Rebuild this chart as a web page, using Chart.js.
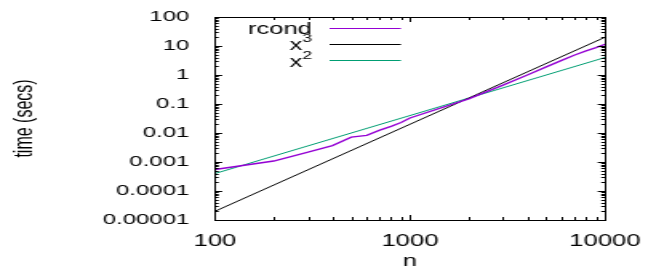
<!DOCTYPE html>
<html>
<head>
<meta charset="utf-8">
<script src="https://cdn.jsdelivr.net/npm/chart.js@4/dist/chart.umd.min.js"></script>
<style>
  html, body { margin: 0; padding: 0; background: #fff; overflow: hidden; }
  /* the reference is a horizontally stretched gnuplot image, so stretch the canvas too */
  #wrap { position: relative; width: 409px; height: 273px; transform: scaleX(1.6); transform-origin: 0 0; }
</style>
</head>
<body>
<div id="wrap"><canvas id="chart"></canvas></div>
<script>
// timings: problem size n vs seconds
const rcondN = [100, 200, 300, 400, 500, 600, 700, 800, 900, 1000, 2000, 3000, 4000, 5000, 6000, 7000, 8000, 9000, 10000];
const rcondTime = [0.00055, 0.00108, 0.0022, 0.0037, 0.0072, 0.0083, 0.0125, 0.017, 0.023, 0.033, 0.15, 0.45, 1.0, 1.9, 3.2, 4.9, 6.8, 8.8, 11.5];
const cubeN = [100, 10000];
const cubeTime = [0.00002, 20];
const squareN = [100, 10000];
const squareTime = [0.0004, 4];

const seriesLabels = ['rcond', 'x^3', 'x^2'];
const seriesColors = ['#9400d3', '#000000', '#009e73'];

const xTicks = [100, 1000, 10000];
const xTickLabels = ['100', '1000', '10000'];
const yTicks = [0.00001, 0.0001, 0.001, 0.01, 0.1, 1, 10, 100];
const yTickLabels = ['0.00001', '0.0001', '0.001', '0.01', '0.1', '1', '10', '100'];

const FONT = '"Liberation Sans", Arial, sans-serif';

const toPoints = (xs, ys) => xs.map((v, i) => ({ x: v, y: ys[i] }));

// inward mirrored tics, the box and the gnuplot-style key
const gnuplotFrame = {
  id: 'gnuplotFrame',
  afterDatasetsDraw(chart) {
    const { ctx, chartArea: a, scales: { x, y } } = chart;
    ctx.save();
    ctx.strokeStyle = '#000';
    ctx.lineWidth = 1;
    ctx.beginPath();
    const decades = (lo, hi, fn) => {
      for (let d = Math.round(Math.log10(lo)); d < Math.round(Math.log10(hi)); d++) {
        for (let m = 1; m <= 9; m++) fn(m * Math.pow(10, d), m === 1);
      }
      fn(hi, true);
    };
    decades(x.min, x.max, (v, major) => {
      const px = Math.round(x.getPixelForValue(v)) + 0.5;
      const len = major ? 5 : 3;
      ctx.moveTo(px, a.bottom); ctx.lineTo(px, a.bottom - len);
      ctx.moveTo(px, a.top); ctx.lineTo(px, a.top + len);
    });
    decades(y.min, y.max, (v, major) => {
      const py = Math.round(y.getPixelForValue(v)) + 0.5;
      const len = major ? 4.5 : 2.3;
      ctx.moveTo(a.left, py); ctx.lineTo(a.left + len, py);
      ctx.moveTo(a.right, py); ctx.lineTo(a.right - len, py);
    });
    ctx.stroke();
    ctx.strokeRect(Math.round(a.left) + 0.5, Math.round(a.top) + 0.5, Math.round(a.width), Math.round(a.height));

    // key
    const textRight = 195, sampleLeft = 206, sampleRight = 250.6;
    chart.data.datasets.forEach((ds, i) => {
      const ly = 27.5 + i * 16.3;
      const [base, sup] = ds.label.split('^');
      ctx.fillStyle = '#000';
      ctx.textBaseline = 'alphabetic';
      ctx.textAlign = 'left';
      ctx.font = '11px ' + FONT;
      const supW = sup ? ctx.measureText(sup).width : 0;
      ctx.font = '16px ' + FONT;
      const baseW = ctx.measureText(base).width;
      const x0 = textRight - supW - baseW;
      ctx.fillText(base, x0, ly + 6.5);
      if (sup) {
        ctx.font = '11px ' + FONT;
        ctx.fillText(sup, x0 + baseW, ly - 1.5);
      }
      ctx.strokeStyle = ds.borderColor;
      ctx.lineWidth = 1;
      ctx.beginPath();
      ctx.moveTo(sampleLeft, Math.round(ly) + 0.5);
      ctx.lineTo(sampleRight, Math.round(ly) + 0.5);
      ctx.stroke();
    });
    ctx.restore();
  }
};

new Chart(document.getElementById('chart'), {
  type: 'line',
  data: {
    datasets: [
      { label: seriesLabels[0], data: toPoints(rcondN, rcondTime), borderColor: seriesColors[0], borderWidth: 1.4 },
      { label: seriesLabels[1], data: toPoints(cubeN, cubeTime), borderColor: seriesColors[1], borderWidth: 1 },
      { label: seriesLabels[2], data: toPoints(squareN, squareTime), borderColor: seriesColors[2], borderWidth: 1 }
    ]
  },
  options: {
    responsive: true,
    maintainAspectRatio: false,
    animation: false,
    elements: { point: { radius: 0 }, line: { tension: 0, fill: false } },
    layout: { padding: { top: 16, right: 30.9, left: 0, bottom: 0 } },
    plugins: { legend: { display: false }, tooltip: { enabled: false } },
    scales: {
      x: {
        type: 'logarithmic',
        min: 100,
        max: 10000,
        afterBuildTicks: s => { s.ticks = xTicks.map(v => ({ value: v })); },
        afterFit: s => { s.height = 53; },
        grid: { display: false },
        border: { display: false },
        ticks: {
          callback: (v, i) => xTickLabels[i],
          font: { family: FONT, size: 16 },
          color: '#000',
          padding: 4,
          maxRotation: 0,
          autoSkip: false
        },
        title: { display: true, text: 'n', font: { family: FONT, size: 16 }, color: '#000', padding: { top: 0, bottom: 2 } }
      },
      y: {
        type: 'logarithmic',
        min: 0.00001,
        max: 100,
        afterBuildTicks: s => { s.ticks = yTicks.map(v => ({ value: v })); },
        afterFit: s => { s.width = 134.4; },
        grid: { display: false },
        border: { display: false },
        ticks: {
          callback: (v, i) => yTickLabels[i],
          font: { family: FONT, size: 15 },
          color: '#000',
          padding: 8,
          autoSkip: false
        },
        title: { display: true, text: 'time (secs)', font: { family: FONT, size: 16 }, color: '#000', padding: { top: 6, bottom: 0 } }
      }
    }
  },
  plugins: [gnuplotFrame]
});
</script>
</body>
</html>
